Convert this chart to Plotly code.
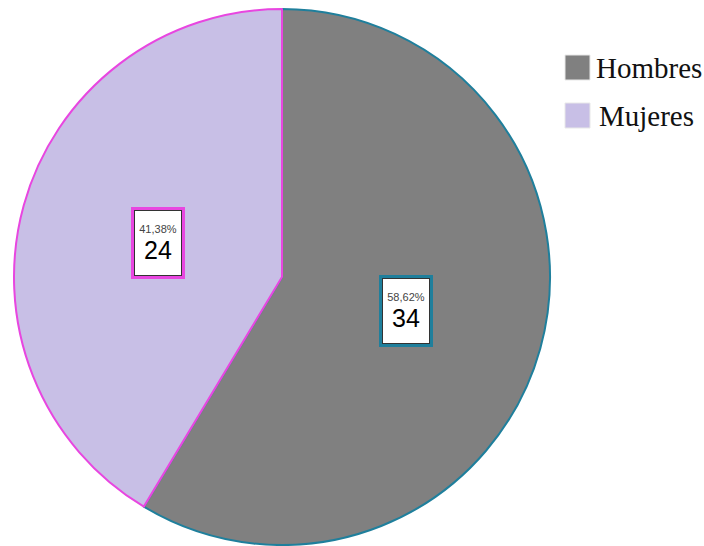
import math
import plotly.graph_objects as go

labels = ["Hombres", "Mujeres"]
values = [34, 24]
percent_labels = ["58,62%", "41,38%"]
fill_colors = ["#808080", "#c8bfe6"]
edge_colors = ["#1f7f9c", "#e846e0"]

W, H = 704, 546
cx, cy, R = 282, 277, 268  # pie centre / radius in pixels

fig = go.Figure(go.Pie(
    labels=labels, values=values, sort=False, direction="clockwise", rotation=0,
    marker=dict(colors=fill_colors, line=dict(color=edge_colors, width=2)),
    textinfo="none", hoverinfo="label+value+percent", showlegend=False,
    domain=dict(x=[(cx - R) / W, (cx + R) / W], y=[(H - cy - R) / H, (H - cy + R) / H]),
))

total = sum(values)
cum = 0
for lab, v, p, ec in zip(labels, values, percent_labels, edge_colors):
    mid = (cum + v / 2) / total * 2 * math.pi
    cum += v
    px = cx + 0.48 * R * math.sin(mid)
    py = cy - 0.48 * R * math.cos(mid)
    txt = f"<span style='font-size:11px;color:#444'>{p}</span><br><span style='font-size:25px'>{v}</span>"
    common = dict(x=px / W, y=1 - py / H, xref="paper", yref="paper", showarrow=False,
                  xanchor="center", yanchor="middle", align="center", valign="middle",
                  font=dict(family="Arial, Liberation Sans", color="#000", size=20),
                  width=46, height=64)
    # outer coloured frame (empty text, fixed size)
    fig.add_annotation(text=" ", bgcolor="white", bordercolor=ec, borderwidth=3,
                       borderpad=1, **common)
    # inner dark frame with the label
    fig.add_annotation(text=txt, bgcolor="white", bordercolor="#333", borderwidth=1,
                       borderpad=0, **common)

# manual legend (swatch + label), matching the reference's large swatches
leg_x, leg_y0, leg_dy, sw = 565, 55, 48, 25
for i, (lab, col) in enumerate(zip(labels, fill_colors)):
    y0 = leg_y0 + i * leg_dy
    fig.add_shape(type="rect", xref="paper", yref="paper",
                  x0=leg_x / W, x1=(leg_x + sw) / W, y0=1 - y0 / H, y1=1 - (y0 + sw) / H,
                  fillcolor=col, line=dict(color="#e8e8e8", width=1))
    fig.add_annotation(text=lab, x=(leg_x + sw + 4 + 3 * i) / W, y=1 - (y0 + sw / 2) / H,
                       xref="paper", yref="paper", showarrow=False,
                       xanchor="left", yanchor="middle",
                       font=dict(family="Liberation Serif, Times New Roman", size=29, color="#111"))

fig.update_layout(
    width=W, height=H, margin=dict(l=0, r=0, t=0, b=0),
    paper_bgcolor="white", plot_bgcolor="white",
)

fig.write_html("out.html")
